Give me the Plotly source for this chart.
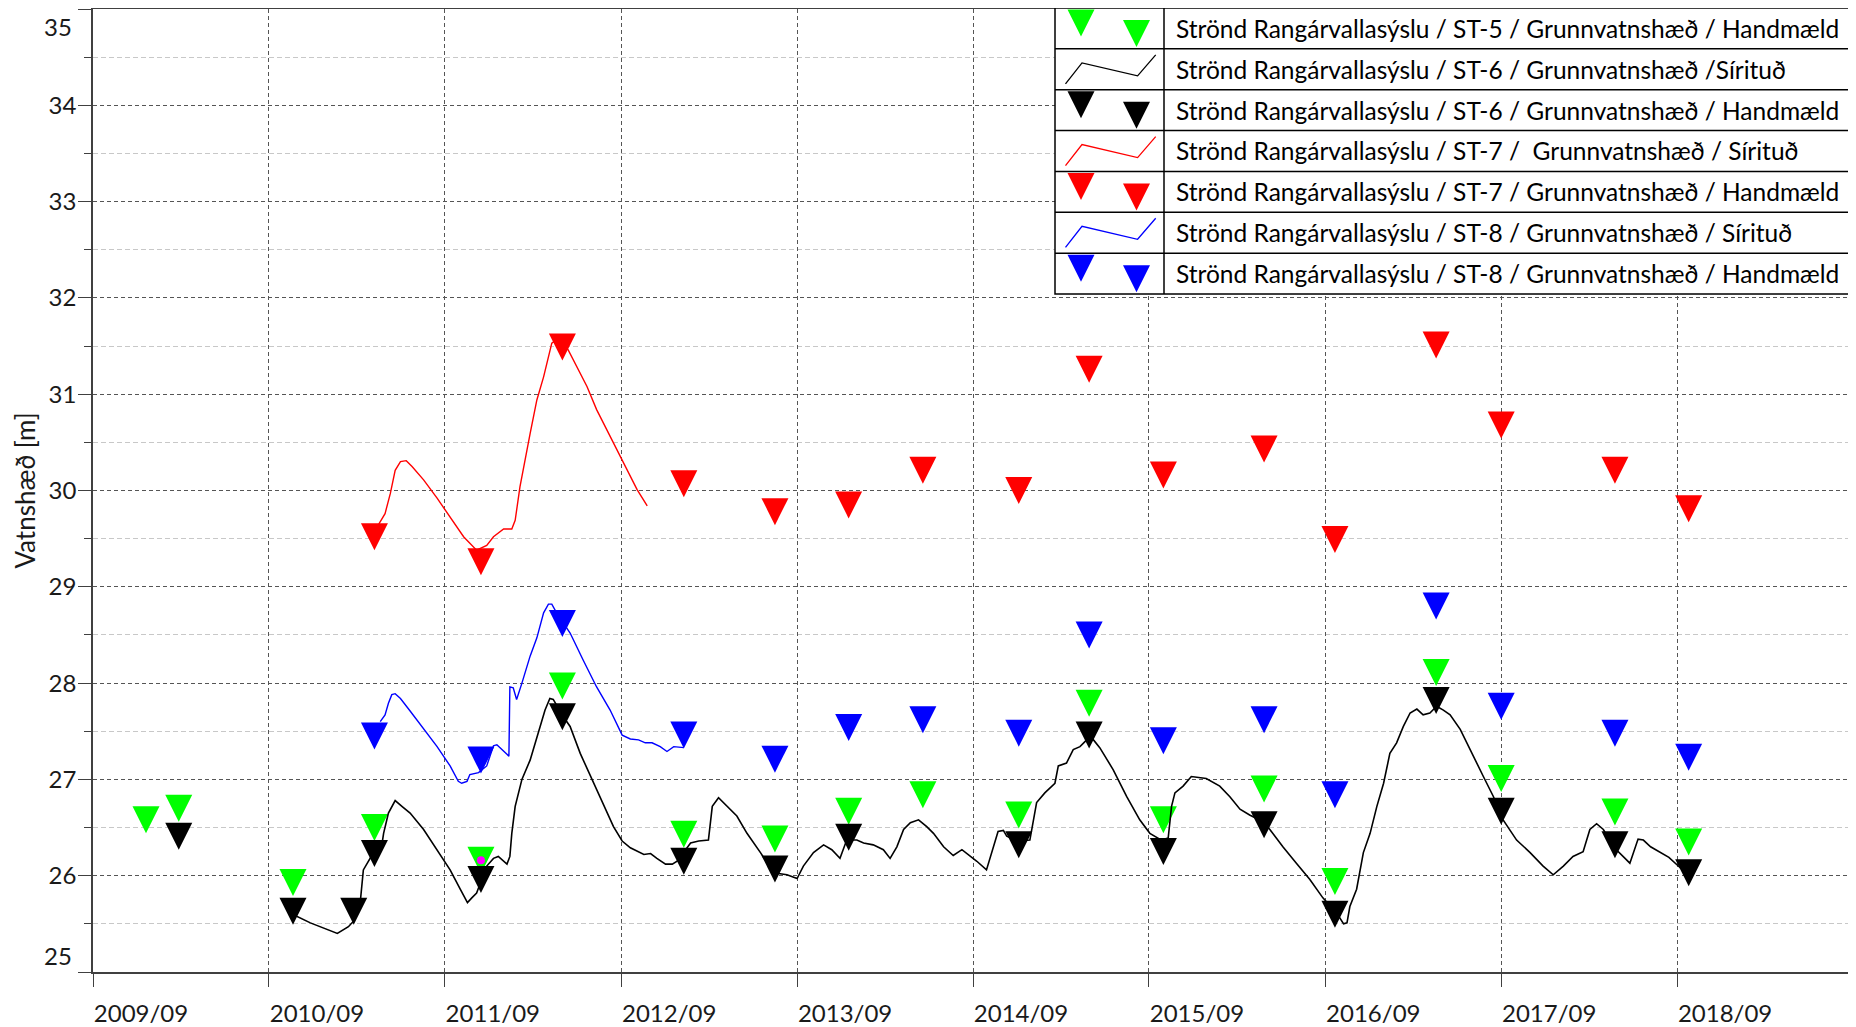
import plotly.graph_objects as go

# ---------------- data ----------------
# ST-5 manual measurements (green)
st5_hand_dates = ["2009-12-20", "2010-02-26", "2010-10-21", "2011-04-08", "2011-11-15", "2012-05-02",
                  "2013-01-09", "2013-07-17", "2013-12-17", "2014-05-20", "2014-12-05", "2015-04-30",
                  "2015-10-01", "2016-04-27", "2016-09-21", "2017-04-19", "2017-09-01", "2018-04-25",
                  "2018-09-25"]
st5_hand_vals = [26.44, 26.56, 25.79, 26.36, 26.02, 27.83, 26.29, 26.24, 26.53, 26.70, 26.49, 27.65,
                 26.44, 26.76, 25.80, 27.97, 26.87, 26.52, 26.21]

# ST-6 manual measurements (black)
st6_hand_dates = ["2010-02-26", "2010-10-21", "2011-02-24", "2011-04-08", "2011-11-15", "2012-05-02",
                  "2013-01-09", "2013-07-17", "2013-12-17", "2014-12-05", "2015-04-30", "2015-10-01",
                  "2016-04-27", "2016-09-21", "2017-04-19", "2017-09-01", "2018-04-25", "2018-09-25"]
st6_hand_vals = [26.27, 25.49, 25.49, 26.09, 25.82, 27.51, 26.01, 25.93, 26.26, 26.18, 27.32, 26.11,
                 26.39, 25.46, 27.68, 26.53, 26.18, 25.89]

# ST-7 / ST-8 manual measurements (red / blue) share dates
st78_hand_dates = ["2011-04-08", "2011-11-15", "2012-05-02", "2013-01-09", "2013-07-17", "2013-12-17",
                   "2014-05-20", "2014-12-05", "2015-04-30", "2015-10-01", "2016-04-27", "2016-09-21",
                   "2017-04-19", "2017-09-01", "2018-04-25", "2018-09-25"]
st7_hand_vals = [29.38, 29.12, 31.35, 29.93, 29.64, 29.71, 30.07, 29.86, 31.12, 30.02, 30.29, 29.35,
                 31.37, 30.54, 30.07, 29.67]
st8_hand_vals = [27.31, 27.06, 28.48, 27.32, 27.07, 27.40, 27.48, 27.34, 28.36, 27.26, 27.48, 26.70,
                 28.66, 27.62, 27.34, 27.09]

# ST-6 logger (black line)
st6_log_dates = [
    "2010-10-20", "2010-11-26", "2011-01-21", "2011-02-13", "2011-02-24", "2011-03-10", "2011-03-16",
    "2011-04-06", "2011-04-24", "2011-04-27", "2011-05-07", "2011-05-21", "2011-06-04", "2011-06-21",
    "2011-07-19", "2011-08-16", "2011-09-12", "2011-10-03", "2011-10-18", "2011-10-27", "2011-11-06",
    "2011-11-27", "2011-12-11", "2011-12-21", "2012-01-01", "2012-01-08", "2012-01-14", "2012-01-18",
    "2012-01-25", "2012-02-08", "2012-02-25", "2012-03-13", "2012-03-27", "2012-04-06", "2012-04-13",
    "2012-05-04", "2012-05-18", "2012-06-08", "2012-07-12", "2012-08-16", "2012-09-03", "2012-09-20",
    "2012-10-18", "2012-11-01", "2012-11-14", "2012-12-02", "2012-12-16", "2012-12-26", "2013-01-23",
    "2013-02-09", "2013-03-01", "2013-03-09", "2013-03-22", "2013-04-09", "2013-04-29", "2013-05-20",
    "2013-06-17", "2013-07-14", "2013-08-11", "2013-09-01", "2013-09-14", "2013-10-05", "2013-10-26",
    "2013-11-12", "2013-11-29", "2013-12-13", "2014-01-03", "2014-01-17", "2014-02-06", "2014-02-27",
    "2014-03-13", "2014-03-27", "2014-04-10", "2014-04-24", "2014-05-11", "2014-05-28", "2014-06-11",
    "2014-07-02", "2014-07-22", "2014-08-09", "2014-08-23", "2014-09-09", "2014-09-29", "2014-10-10",
    "2014-10-23", "2014-11-03", "2014-11-10", "2014-12-01", "2014-12-28", "2015-01-11", "2015-01-28",
    "2015-02-18", "2015-02-25", "2015-03-14", "2015-03-28", "2015-04-11", "2015-04-25", "2015-05-09",
    "2015-05-22", "2015-06-19", "2015-07-17", "2015-08-13", "2015-09-03", "2015-09-27", "2015-10-11",
    "2015-10-18", "2015-10-25", "2015-11-11", "2015-11-28", "2015-12-29", "2016-01-26", "2016-02-16",
    "2016-03-08", "2016-03-28", "2016-04-25", "2016-05-09", "2016-06-05", "2016-07-03", "2016-07-31",
    "2016-08-27", "2016-09-25", "2016-10-09", "2016-10-16", "2016-10-22", "2016-11-05", "2016-11-19",
    "2016-12-03", "2016-12-17", "2016-12-31", "2017-01-13", "2017-01-27", "2017-02-10", "2017-02-24",
    "2017-03-10", "2017-03-23", "2017-04-06", "2017-04-20", "2017-05-04", "2017-05-18", "2017-06-08",
    "2017-06-28", "2017-07-26", "2017-08-16", "2017-09-05", "2017-10-03", "2017-10-31", "2017-11-27",
    "2017-12-18", "2018-01-08", "2018-01-28", "2018-02-18", "2018-03-04", "2018-03-18", "2018-04-01",
    "2018-04-14", "2018-04-28", "2018-05-26", "2018-06-02", "2018-06-12", "2018-06-23", "2018-07-08",
    "2018-08-15", "2018-09-08", "2018-09-25"]
st6_log_vals = [
    25.60, 25.51, 25.40, 25.47, 25.53, 25.75, 26.06,
    26.24, 26.34, 26.44, 26.65, 26.78, 26.72, 26.65,
    26.48, 26.27, 26.06, 25.86, 25.72, 25.77, 25.82,
    26.10, 26.18, 26.20, 26.15, 26.12, 26.20, 26.44,
    26.72, 27.00, 27.20, 27.48, 27.72, 27.84, 27.83,
    27.65, 27.55, 27.27, 26.89, 26.51, 26.36, 26.29,
    26.22, 26.23, 26.18, 26.12, 26.12, 26.15, 26.34,
    26.36, 26.37, 26.72, 26.81, 26.72, 26.62, 26.44,
    26.24, 26.03, 26.01, 25.97, 26.10, 26.24, 26.32,
    26.27, 26.18, 26.37, 26.37, 26.34, 26.32, 26.27,
    26.18, 26.30, 26.48, 26.55, 26.58, 26.51, 26.44,
    26.30, 26.21, 26.27, 26.22, 26.15, 26.06, 26.24,
    26.46, 26.47, 26.41, 26.36, 26.37, 26.76, 26.86,
    26.96, 27.14, 27.17, 27.31, 27.34, 27.41, 27.41,
    27.33, 27.10, 26.82, 26.58, 26.44, 26.37, 26.39,
    26.72, 26.86, 26.93, 27.03, 27.01, 26.93, 26.82,
    26.69, 26.63, 26.56, 26.48, 26.30, 26.13, 25.96,
    25.77, 25.61, 25.50, 25.51, 25.68, 25.86, 26.24,
    26.44, 26.72, 26.96, 27.27, 27.38, 27.55, 27.69,
    27.73, 27.67, 27.69, 27.76, 27.72, 27.67, 27.52,
    27.31, 27.03, 26.82, 26.58, 26.37, 26.24, 26.10,
    26.01, 26.10, 26.20, 26.25, 26.48, 26.54, 26.48,
    26.37, 26.27, 26.13, 26.24, 26.38, 26.37, 26.30,
    26.19, 26.08, 26.02]

# ST-7 logger (red line)
st7_log_dates = [
    "2011-04-17", "2011-04-30", "2011-05-11", "2011-05-21", "2011-06-01", "2011-06-13", "2011-06-25",
    "2011-07-19", "2011-08-16", "2011-09-12", "2011-10-10", "2011-11-06", "2011-11-27", "2011-12-11",
    "2012-01-01", "2012-01-18", "2012-01-25", "2012-02-04", "2012-02-15", "2012-02-25", "2012-03-10",
    "2012-03-24", "2012-04-10", "2012-04-23", "2012-05-14", "2012-06-01", "2012-06-22", "2012-07-12",
    "2012-08-09", "2012-09-06", "2012-10-04", "2012-10-25"]
st7_log_vals = [
    29.65, 29.76, 29.97, 30.21, 30.30, 30.31, 30.25,
    30.11, 29.92, 29.73, 29.52, 29.38, 29.43, 29.52,
    29.60, 29.60, 29.69, 30.04, 30.35, 30.59, 30.94,
    31.18, 31.53, 31.58, 31.46, 31.28, 31.08, 30.84,
    30.56, 30.28, 30.01, 29.84]

# ST-8 logger (blue line)
st8_log_dates = [
    "2011-04-20", "2011-04-30", "2011-05-07", "2011-05-14", "2011-05-21", "2011-06-01", "2011-06-21",
    "2011-07-19", "2011-08-16", "2011-09-12", "2011-09-29", "2011-10-06", "2011-10-17", "2011-10-23",
    "2011-11-10", "2011-11-27", "2011-12-11", "2011-12-18", "2011-12-25", "2012-01-08", "2012-01-12",
    "2012-01-14", "2012-01-21", "2012-01-28", "2012-02-08", "2012-02-25", "2012-03-10", "2012-03-24",
    "2012-04-03", "2012-04-10", "2012-04-20", "2012-05-18", "2012-06-14", "2012-07-12", "2012-08-09",
    "2012-09-03", "2012-09-20", "2012-10-07", "2012-10-21", "2012-11-04", "2012-11-21", "2012-12-05",
    "2012-12-19", "2013-01-09"]
st8_log_vals = [
    27.60, 27.67, 27.79, 27.88, 27.89, 27.84, 27.71,
    27.53, 27.34, 27.14, 26.98, 26.96, 26.98, 27.05,
    27.07, 27.14, 27.35, 27.36, 27.33, 27.26, 27.24,
    27.96, 27.95, 27.83, 28.00, 28.28, 28.47, 28.73,
    28.82, 28.82, 28.73, 28.52, 28.24, 27.96, 27.72,
    27.46, 27.42, 27.41, 27.38, 27.38, 27.34, 27.29,
    27.34, 27.33]

# flagged point (small magenta dot)
flag_dates = ["2011-11-15"]
flag_vals = [26.16]

# axes
x_tick_dates = ["2009-09-01", "2010-09-01", "2011-09-01", "2012-09-01", "2013-09-01", "2014-09-01",
                "2015-09-01", "2016-09-01", "2017-09-01", "2018-09-01", "2019-09-01"]
x_tick_text = ["2009/09", "2010/09", "2011/09", "2012/09", "2013/09", "2014/09",
               "2015/09", "2016/09", "2017/09", "2018/09", ""]
y_tick_vals = [25, 26, 27, 28, 29, 30, 31, 32, 33, 34, 35]
y_tick_text = ["", "26", "27", "28", "29", "30", "31", "32", "33", "34", ""]
y_minor_vals = [25.5, 26.5, 27.5, 28.5, 29.5, 30.5, 31.5, 32.5, 33.5, 34.5]

legend_labels = [
    "Strönd Rangárvallasýslu / ST-5 / Grunnvatnshæð / Handmæld",
    "Strönd Rangárvallasýslu / ST-6 / Grunnvatnshæð /Sírituð",
    "Strönd Rangárvallasýslu / ST-6 / Grunnvatnshæð / Handmæld",
    "Strönd Rangárvallasýslu / ST-7 /\u00a0 Grunnvatnshæð / Sírituð",
    "Strönd Rangárvallasýslu / ST-7 / Grunnvatnshæð / Handmæld",
    "Strönd Rangárvallasýslu / ST-8 / Grunnvatnshæð / Sírituð",
    "Strönd Rangárvallasýslu / ST-8 / Grunnvatnshæð / Handmæld",
]
GREEN, BLACK, RED, BLUE = "#00FF00", "#000000", "#FF0000", "#0000FF"
legend_kinds = [("m", GREEN), ("l", BLACK), ("m", BLACK), ("l", RED), ("m", RED), ("l", BLUE), ("m", BLUE)]

FONT = "Lato"
TXT = "#1a1a1a"

# ---------------- figure ----------------
# the page body has an 8 px default margin, so the figure is sized/offset to fill the window
OFF = 8
W, H = 1856 - OFF, 1027 - OFF
ML, MR, MT, MB = 85, 3, 1, 55
PW, PH = W - ML - MR, H - MT - MB


def px(x, y):
    """window pixel -> paper coordinates (used only for the legend table)"""
    return (x - OFF - ML) / PW, 1 - (y - OFF - MT) / PH


fig = go.Figure()
MS = 27


def mk(color):
    return dict(symbol="arrow-down", size=MS, color=color, line=dict(width=0))


fig.add_trace(go.Scatter(x=st5_hand_dates, y=st5_hand_vals, mode="markers", name=legend_labels[0],
                         marker=mk(GREEN)))
fig.add_trace(go.Scatter(x=st6_log_dates, y=st6_log_vals, mode="lines", name=legend_labels[1],
                         line=dict(color=BLACK, width=1.6)))
fig.add_trace(go.Scatter(x=st6_hand_dates, y=st6_hand_vals, mode="markers", name=legend_labels[2],
                         marker=mk(BLACK)))
fig.add_trace(go.Scatter(x=st7_log_dates, y=st7_log_vals, mode="lines", name=legend_labels[3],
                         line=dict(color=RED, width=1.4)))
fig.add_trace(go.Scatter(x=st78_hand_dates, y=st7_hand_vals, mode="markers", name=legend_labels[4],
                         marker=mk(RED)))
fig.add_trace(go.Scatter(x=st8_log_dates, y=st8_log_vals, mode="lines", name=legend_labels[5],
                         line=dict(color=BLUE, width=1.4)))
fig.add_trace(go.Scatter(x=st78_hand_dates, y=st8_hand_vals, mode="markers", name=legend_labels[6],
                         marker=mk(BLUE)))
fig.add_trace(go.Scatter(x=flag_dates, y=flag_vals, mode="markers", name="flag",
                         marker=dict(symbol="circle", size=8, color="#FF00FF")))

# ---------------- custom legend table ----------------
shapes = []
annotations = []
LEG_L, LEG_R, LEG_T, LEG_B = 1055, 1853, 8, 294
DIV = 1164
rh = (LEG_B - LEG_T) / 7
x0, y0 = px(LEG_L, LEG_T)
x1, y1 = px(LEG_R, LEG_B)
shapes.append(dict(type="rect", xref="paper", yref="paper", x0=x0, y0=y1, x1=x1, y1=y0,
                   fillcolor="white", line=dict(color="black", width=1.5), layer="above"))
for i in range(1, 7):
    xa, ya = px(LEG_L, LEG_T + i * rh)
    xb, _ = px(LEG_R, LEG_T + i * rh)
    shapes.append(dict(type="line", xref="paper", yref="paper", x0=xa, x1=xb, y0=ya, y1=ya,
                       line=dict(color="black", width=1.5), layer="above"))
xd, yt = px(DIV, LEG_T)
_, yb = px(DIV, LEG_B)
shapes.append(dict(type="line", xref="paper", yref="paper", x0=xd, x1=xd, y0=yt, y1=yb,
                   line=dict(color="black", width=1.5), layer="above"))


def path(points, close=False):
    parts = []
    for k, (a, b) in enumerate(points):
        pa, pb = px(a, b)
        parts.append(("M" if k == 0 else "L") + f"{pa:.6f},{pb:.6f}")
    return " ".join(parts) + (" Z" if close else "")


for i, (kind, col) in enumerate(legend_kinds):
    top = LEG_T + i * rh
    if kind == "m":
        for cx, t in ((1081, top + 1.5), (1136.5, top + 12)):
            tri = [(cx - MS / 2, t), (cx + MS / 2, t), (cx, t + MS)]
            shapes.append(dict(type="path", xref="paper", yref="paper", path=path(tri, True),
                               fillcolor=col, line=dict(width=0), layer="above"))
    else:
        pl = [(1065.5, top + 35), (1082, top + 14), (1137.6, top + 27), (1155.7, top + 6)]
        shapes.append(dict(type="path", xref="paper", yref="paper", path=path(pl),
                           line=dict(color=col, width=1.3), layer="above"))
    tx, ty = px(1174, top + rh / 2)
    annotations.append(dict(xref="paper", yref="paper", x=tx, y=ty, xanchor="left", yanchor="middle",
                            text=legend_labels[i], showarrow=False,
                            font=dict(family=FONT, size=24.5, color="black")))

# end labels of y axis (drawn nudged inward like the original)
for val, shift in ((35, -17), (25, 17)):
    annotations.append(dict(xref="paper", yref="y", x=0, y=val, xanchor="right", yanchor="middle",
                            xshift=-19, yshift=shift, text=str(val), showarrow=False,
                            font=dict(family=FONT, size=24, color=TXT)))

AX = "#404040"
fig.update_layout(
    width=W, height=H,
    margin=dict(l=ML, r=MR, t=MT, b=MB, pad=0, autoexpand=False),
    paper_bgcolor="white", plot_bgcolor="white",
    showlegend=False,
    font=dict(family=FONT, color=TXT),
    shapes=shapes, annotations=annotations,
    xaxis=dict(type="date", range=["2009-09-01", "2019-09-01"], automargin=False,
               tickmode="array", tickvals=x_tick_dates, ticktext=x_tick_text,
               ticks="outside", ticklen=13, tickwidth=1.2, tickcolor=AX,
               showline=True, linecolor=AX, linewidth=1.5, mirror=True,
               showgrid=True, gridcolor="#555555", gridwidth=1, griddash="4px,3px",
               zeroline=False, tickfont=dict(family=FONT, size=24, color=TXT),
               ticklabelshift=48, ticklabelstandoff=6),
    yaxis=dict(range=[25, 35], automargin=False, tickmode="array", tickvals=y_tick_vals,
               ticktext=y_tick_text,
               ticks="outside", ticklen=13, tickwidth=1.2, tickcolor=AX,
               showline=True, linecolor=AX, linewidth=1.5, mirror=True,
               showgrid=True, gridcolor="#555555", gridwidth=1, griddash="4px,3px",
               zeroline=False, tickfont=dict(family=FONT, size=24, color=TXT),
               ticklabelstandoff=-3,
               minor=dict(tickmode="array", tickvals=y_minor_vals, ticks="outside", ticklen=7,
                          tickcolor=AX, tickwidth=1.2, showgrid=True, gridcolor="#c8c8c8",
                          gridwidth=1, griddash="5px,3px"),
               title=dict(text="Vatnshæð [m]", font=dict(family=FONT, size=26, color=TXT), standoff=6)),
)

fig.write_html("out.html")
